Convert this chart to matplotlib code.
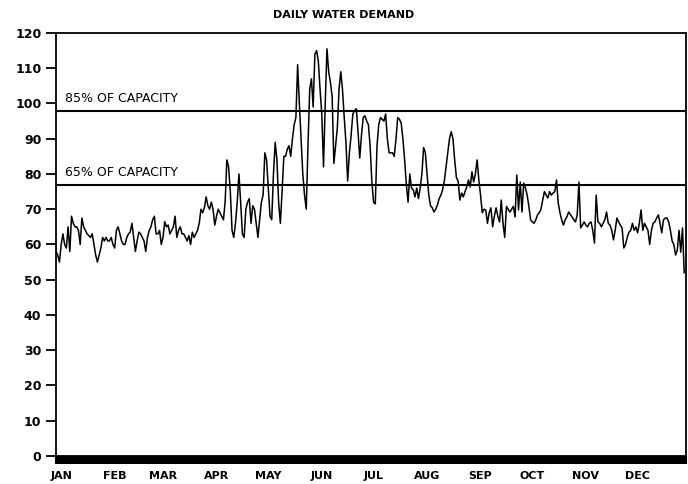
import numpy as np
import matplotlib.pyplot as plt

# daily demand
jan = [58, 57, 55, 60, 63, 60, 59, 65, 58, 68, 66, 65, 65, 64, 60, 67.5, 65, 64, 63, 62.5,
       62, 63, 60, 57, 55, 57, 59, 62, 61, 62, 61]
feb = [61, 62, 60, 59, 64, 65, 63, 61, 60, 60, 62, 63, 63.5, 66, 62, 58, 61, 63.5, 63, 62,
       61, 58, 62, 64, 65, 67, 68, 63]
mar = [63, 64, 60, 62, 66.5, 65, 65.5, 63, 64, 65, 68, 62, 64, 65, 63, 63, 62, 61, 62.5, 60,
       63.5, 62, 63, 64, 66, 70, 69, 70.5, 73.5, 71, 70]
apr = [72, 70, 65.5, 68, 70, 69, 68, 67, 72, 84, 82, 75, 64, 62, 66, 72, 80, 72, 63, 62,
       70, 72, 73, 66, 71, 70, 66, 62, 67, 72]
may = [74, 86, 84, 76, 68, 67, 80, 89, 84, 72, 66, 75, 85, 85, 87, 88, 85, 90, 94, 96,
       111, 100, 90, 80, 74, 70, 88, 104, 107, 99, 114]
jun = [115, 112, 104, 97, 82, 100, 115.5, 109, 106, 102, 83, 88, 93, 104, 109, 104, 96, 89, 78, 86,
       91, 97, 98, 98.5, 92, 84.5, 91, 96, 96.5, 95]
jul = [94, 88, 78, 72, 71.5, 88, 94, 96, 95.5, 95, 97, 90, 86, 86, 86, 85, 90, 96, 95.5, 94.5,
       90, 84, 77, 72, 80, 76, 75.5, 73.5, 76, 73, 76]
aug = [80, 87.5, 86, 80, 74, 71, 70.4, 69.2, 70, 71.2, 73, 74, 75.5, 78, 82, 86, 90, 92, 90, 84,
       79, 78, 72.6, 74.6, 73.5, 75, 76.3, 78.3, 76.3, 80.6, 77.7]
sep = [80, 84, 78.3, 74, 69, 70, 69.8, 66, 69, 70.4, 65, 68, 70.4, 68, 66.4, 72.6, 66, 62, 70.8, 70,
       69.2, 70, 70.8, 67.8, 79.7, 69.8, 77.7, 69.2, 77.4, 76]
oct_ = [74, 70.8, 67, 66.4, 66, 67, 68.4, 69, 70, 72.6, 75, 74, 73.2, 75, 74, 74.6, 75, 78.3, 71.8, 69,
        67, 65.5, 67, 67.8, 69.2, 68.5, 67.8, 67, 66.4, 68.4, 77.7]
nov = [64.7, 65.5, 66.4, 65.5, 65, 66, 66.4, 64, 60.4, 74, 66.4, 66, 65, 66, 67, 69.2, 66, 65.5, 64, 61.3,
       64, 67.5, 66.4, 65.5, 64.7, 59, 60, 62, 63.5, 64]
dec = [66, 64, 65, 63.3, 66, 69.8, 64, 66, 65, 64, 60, 64, 66, 66.4, 67.5, 68.4, 66, 63.3, 67, 67.5,
       67.5, 66.4, 64, 61, 60, 57, 58.4, 64, 57.8, 64.7, 52]

months = ['JAN', 'FEB', 'MAR', 'APR', 'MAY', 'JUN', 'JUL', 'AUG', 'SEP', 'OCT', 'NOV', 'DEC']
month_days = [31, 28, 31, 30, 31, 30, 31, 31, 30, 31, 30, 31]
cap85 = 98
cap65 = 77

demand = np.array(jan + feb + mar + apr + may + jun + jul + aug + sep + oct_ + nov + dec)
days = np.arange(len(demand))
month_start = np.concatenate([[0], np.cumsum(month_days)[:-1]])

fig = plt.figure(figsize=(6.88, 4.84), dpi=100)
ax = fig.add_axes([0.0814, 0.0579, 0.9156, 0.874])

ax.plot(days, demand, color='black', linewidth=1.1)
ax.axhline(cap85, color='black', linewidth=1.5)
ax.axhline(cap65, color='black', linewidth=1.5)
ax.text(5, cap85 + 1.5, '85% OF CAPACITY', fontsize=9, va='bottom', ha='left')
ax.text(5, cap65 + 1.5, '65% OF CAPACITY', fontsize=9, va='bottom', ha='left')

ax.set_xlim(0, 365)
ax.set_ylim(0, 120)
ax.set_yticks(np.arange(0, 121, 10))
ax.set_xticks(month_start + 3)
ax.set_xticklabels(months, fontsize=8, fontweight='bold')
# dense daily ticks make the solid black band under the axis
ax.set_xticks(np.arange(0, 365.5, 0.5), minor=True)
ax.tick_params(axis='x', which='major', length=0, pad=11)
ax.tick_params(axis='x', which='minor', direction='out', length=6, width=1.5)
ax.tick_params(axis='y', direction='out', length=7, width=1.3, labelsize=9)
for lab in ax.get_yticklabels():
    lab.set_fontweight('bold')
for s in ax.spines.values():
    s.set_linewidth(1.3)

fig.text(0.5, 0.968, 'DAILY WATER DEMAND', ha='center', va='center', fontsize=8, fontweight='bold')

fig.savefig('out.png', dpi=100)
